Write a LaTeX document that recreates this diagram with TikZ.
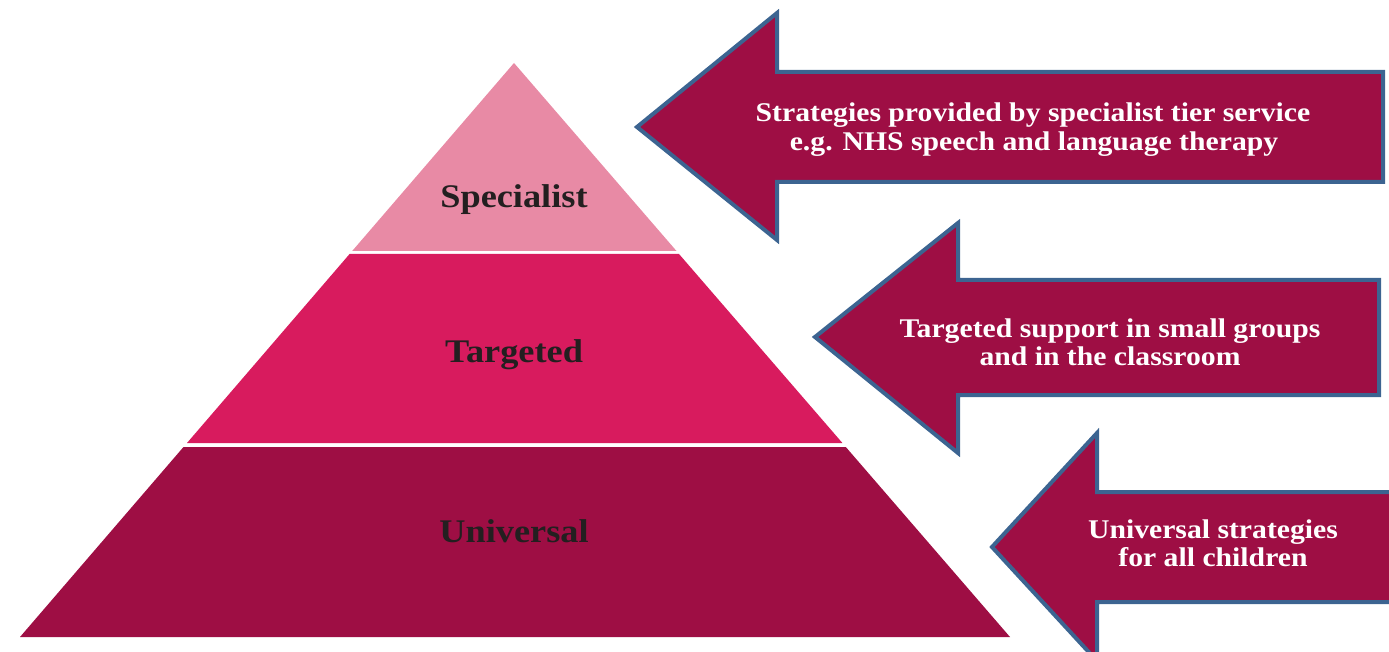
\documentclass[tikz,border=0pt]{standalone}
\usepackage{fontspec}
\newfontfamily\labfont[FakeStretch=1.1]{Liberation Serif}
\definecolor{specpink}{RGB}{232,138,165}
\definecolor{targpink}{RGB}{216,27,94}
\definecolor{univred}{RGB}{158,14,68}
\definecolor{arrowblue}{RGB}{60,100,145}
\definecolor{labdark}{RGB}{35,31,32}
\tikzset{
  tierlabel/.style={anchor=base, inner sep=0pt, text=labdark, font=\labfont\bfseries\fontsize{33}{36}\selectfont},
  arrowtext/.style={anchor=base, inner sep=0pt, text=white, font=\labfont\bfseries\fontsize{27}{29}\selectfont},
  bigarrow/.style={fill=univred, draw=arrowblue, line width=4pt, line join=miter}
}
\begin{document}
\begin{tikzpicture}[x=1pt,y=-1pt]
\useasboundingbox (0,0) rectangle (1389,652);
\clip (0,0) rectangle (1389,652);
% pyramid bands
\fill[specpink] (514,63) -- (676.5,251) -- (352.2,251) -- cycle;
\fill[targpink] (349.6,254) -- (679.0,254) -- (842.4,443) -- (187.0,443) -- cycle;
\fill[univred] (183.5,447) -- (845.8,447) -- (1010,637) -- (20,637) -- cycle;
\node[tierlabel] (spec) at (514,208) {Specialist};
\node[tierlabel] (targ) at (514,362) {Targeted};
\node[tierlabel] (univ) at (514,542) {Universal};
% arrows
\draw[bigarrow] (637,127) -- (777,13) -- (777,72) -- (1383,72) -- (1383,182) -- (777,182) -- (777,240) -- cycle;
\draw[bigarrow] (815,337) -- (958,223) -- (958,280) -- (1379,280) -- (1379,395) -- (958,395) -- (958,453) -- cycle;
\draw[bigarrow] (992,547) -- (1097,433) -- (1097,492) -- (1400,492) -- (1400,602) -- (1097,602) -- (1097,661) -- cycle;
\node[arrowtext] (a1a) at (1033,122) {Strategies provided by specialist tier service};
\node[arrowtext] (a1b) at (1034,151) {e.g. NHS speech and language therapy};
\node[arrowtext] (a2a) at (1110,337) {Targeted support in small groups};
\node[arrowtext] (a2b) at (1110,365) {and in the classroom};
\node[arrowtext] (a3a) at (1213,538) {Universal strategies};
\node[arrowtext] (a3b) at (1213,566) {for all children};
\end{tikzpicture}
\end{document}
